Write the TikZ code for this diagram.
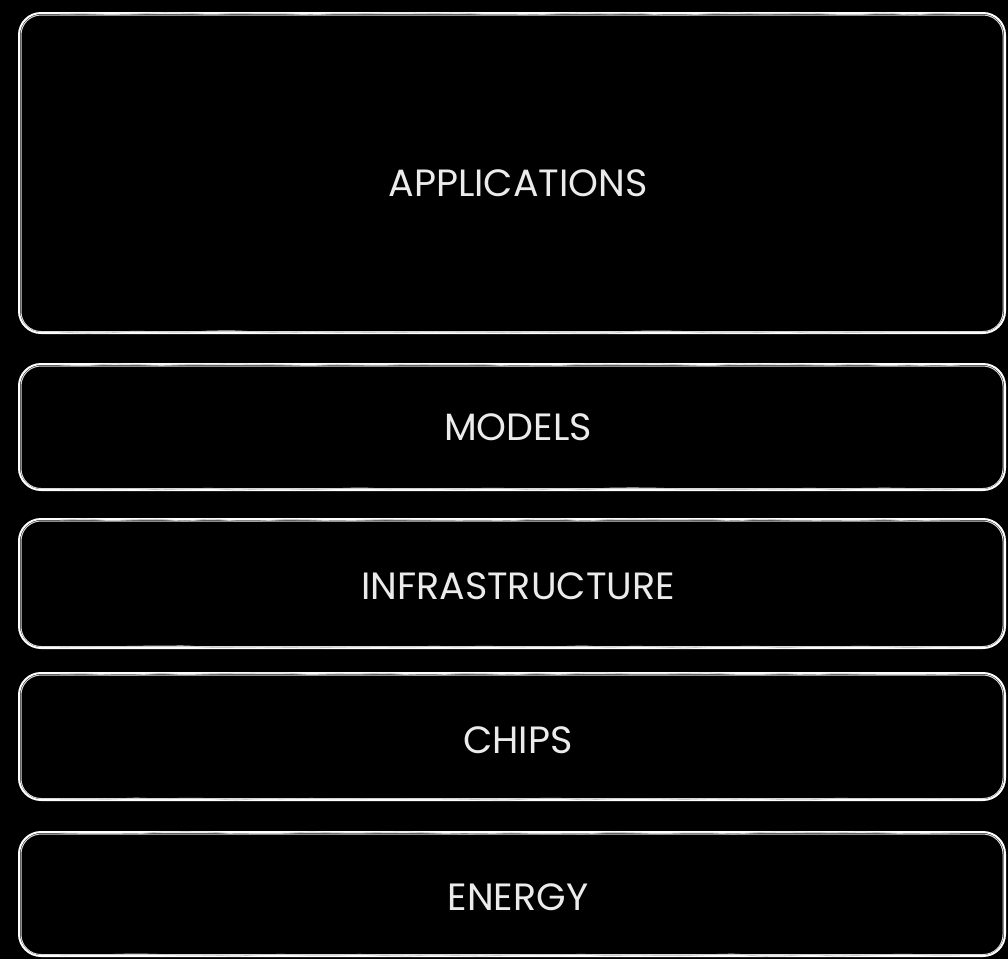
\documentclass[tikz,border=0pt]{standalone}
\usepackage{fontspec}
\setmainfont{Poppins}
\usetikzlibrary{calc,decorations.pathmorphing}
\begin{document}
\begin{tikzpicture}[x=1pt,y=-1pt,
  layerbox/.style={draw=white, line width=2pt, rounded corners=22pt, inner sep=0pt},
  sketch/.style={draw=white!85!black, line width=1pt, rounded corners=20pt},
  roughline/.style={draw=white!80!black, line width=0.8pt, decorate,
    decoration={random steps, segment length=25pt, amplitude=1.2pt}, rounded corners=6pt},
  layertext/.style={text=white!92!black, font=\fontsize{38}{40}\selectfont}]
\fill[black] (0,0) rectangle (1008,959);
\useasboundingbox (0,0) rectangle (1008,959);
\pgfmathsetseed{7}
% boxes: name, top, bottom, text y
\foreach \n/\t/\b/\ty/\lab in {app/13/333/183/APPLICATIONS, mod/364/490/427/MODELS, inf/519/648/586/INFRASTRUCTURE, chp/673/800/740/CHIPS, eng/832/956/897/ENERGY}{
  \draw[layerbox] (19,\t) rectangle (1005,\b);
  \draw[sketch] (21,\t+2) rectangle (1003,\b-1.5);
  \draw[roughline] (60,\t+1) -- (960,\t+1);
  \draw[roughline] (60,\b-1) -- (960,\b-1);
  \node[layertext] (\n) at (518,\ty) {\lab};
}
\end{tikzpicture}
\end{document}
